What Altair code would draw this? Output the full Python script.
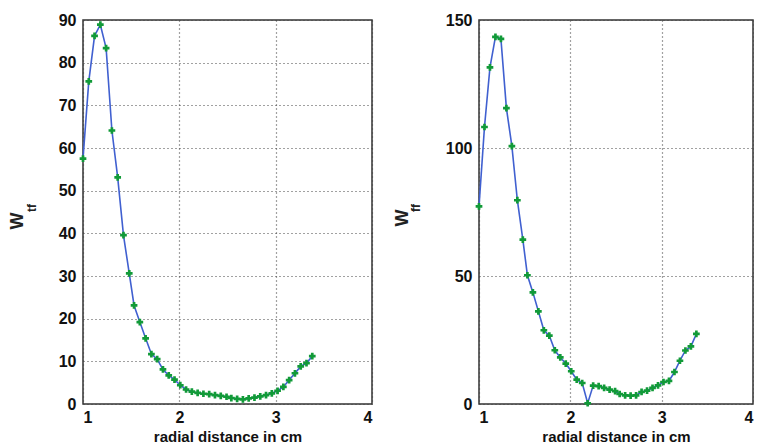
import altair as alt
import pandas as pd

# radial distance (cm)
x_vals = [1.00, 1.06, 1.12, 1.18, 1.24, 1.30, 1.36, 1.42, 1.48, 1.53, 1.59, 1.65, 1.71, 1.77,
          1.83, 1.89, 1.95, 2.01, 2.07, 2.13, 2.19, 2.25, 2.31, 2.37, 2.43, 2.49, 2.54, 2.60,
          2.66, 2.72, 2.78, 2.84, 2.90, 2.96, 3.02, 3.08, 3.14, 3.20, 3.26, 3.32, 3.38]

w_tf = [57.5, 75.6, 86.3, 88.9, 83.4, 64.1, 53.1, 39.6, 30.6, 23.1, 19.2, 15.4, 11.7, 10.5,
        8.1, 6.7, 5.7, 4.4, 3.4, 2.9, 2.6, 2.4, 2.3, 2.1, 1.9, 1.7, 1.4, 1.2,
        1.1, 1.3, 1.5, 1.8, 2.1, 2.5, 3.1, 4.0, 5.6, 7.2, 8.8, 9.6, 11.2]

w_ff = [77.2, 108.2, 131.5, 143.4, 142.6, 115.6, 100.7, 79.6, 64.2, 50.3, 43.6, 36.2, 28.8, 26.7,
        21.0, 18.2, 15.8, 12.8, 9.5, 8.2, 0.3, 7.2, 7.0, 6.3, 5.6, 5.0, 3.9, 3.4,
        3.3, 3.4, 4.7, 5.2, 6.3, 7.3, 8.6, 9.0, 12.5, 16.9, 20.9, 22.5, 27.4]

x_ticks = [1, 2, 3, 4]
left_ticks = [0, 10, 20, 30, 40, 50, 60, 70, 80, 90]
right_ticks = [0, 50, 100, 150]

FONT = "Liberation Sans"
LINE = "#4060d0"
MARK = "#119a38"


def panel(values, ymax, yticks, sub, w, h, wpos, spos):
    df = pd.DataFrame({"x": x_vals, "y": values})
    xenc = alt.X("x:Q", scale=alt.Scale(domain=[1, 4], nice=False),
                 axis=alt.Axis(values=x_ticks, title="radial distance in cm", format="d"))
    yenc = alt.Y("y:Q", scale=alt.Scale(domain=[0, ymax], nice=False),
                 axis=alt.Axis(values=yticks, title=None, format="d"))
    base = alt.Chart(df)
    line = base.mark_line(color=LINE, strokeWidth=1.6).encode(x=xenc, y=yenc)
    pts = base.mark_point(shape="cross", filled=True, color=MARK, size=45, opacity=1).encode(x=xenc, y=yenc)
    tw = alt.Chart(pd.DataFrame({"t": ["W"]})).mark_text(
        angle=270, font=FONT, fontSize=18, fontWeight="bold", color="#222",
        align="center", baseline="middle").encode(
        x=alt.value(wpos[0]), y=alt.value(wpos[1]), text="t:N")
    ts = alt.Chart(pd.DataFrame({"t": [sub]})).mark_text(
        angle=270, font=FONT, fontSize=12, fontWeight="bold", color="#222",
        align="center", baseline="middle").encode(
        x=alt.value(spos[0]), y=alt.value(spos[1]), text="t:N")
    return alt.layer(line, pts, tw, ts).properties(width=w, height=h)


left = panel(w_tf, 90, left_ticks, "tf", 289, 384, (-65, 201), (-51, 188))
right = panel(w_ff, 150, right_ticks, "ff", 274, 384, (-76, 198), (-63, 188))

chart = alt.hconcat(left, right, spacing=20).properties(
    padding={"left": 0, "top": 3, "right": 0, "bottom": 0}
).configure_view(
    stroke="#333", strokeWidth=1.5
).configure_axis(
    labelFont=FONT, labelFontSize=16, labelFontWeight="bold", labelColor="#111",
    titleFont=FONT, titleFontSize=15, titleFontWeight="bold", titleColor="#111",
    grid=True, gridColor="#444", gridDash=[1, 3], gridWidth=1.2, gridOpacity=1,
    domain=False, ticks=False, labelPadding=7, titlePadding=4
).configure_axisX(labelPadding=5)

chart.save("out.html", embed_options={"renderer": "svg", "actions": False})
